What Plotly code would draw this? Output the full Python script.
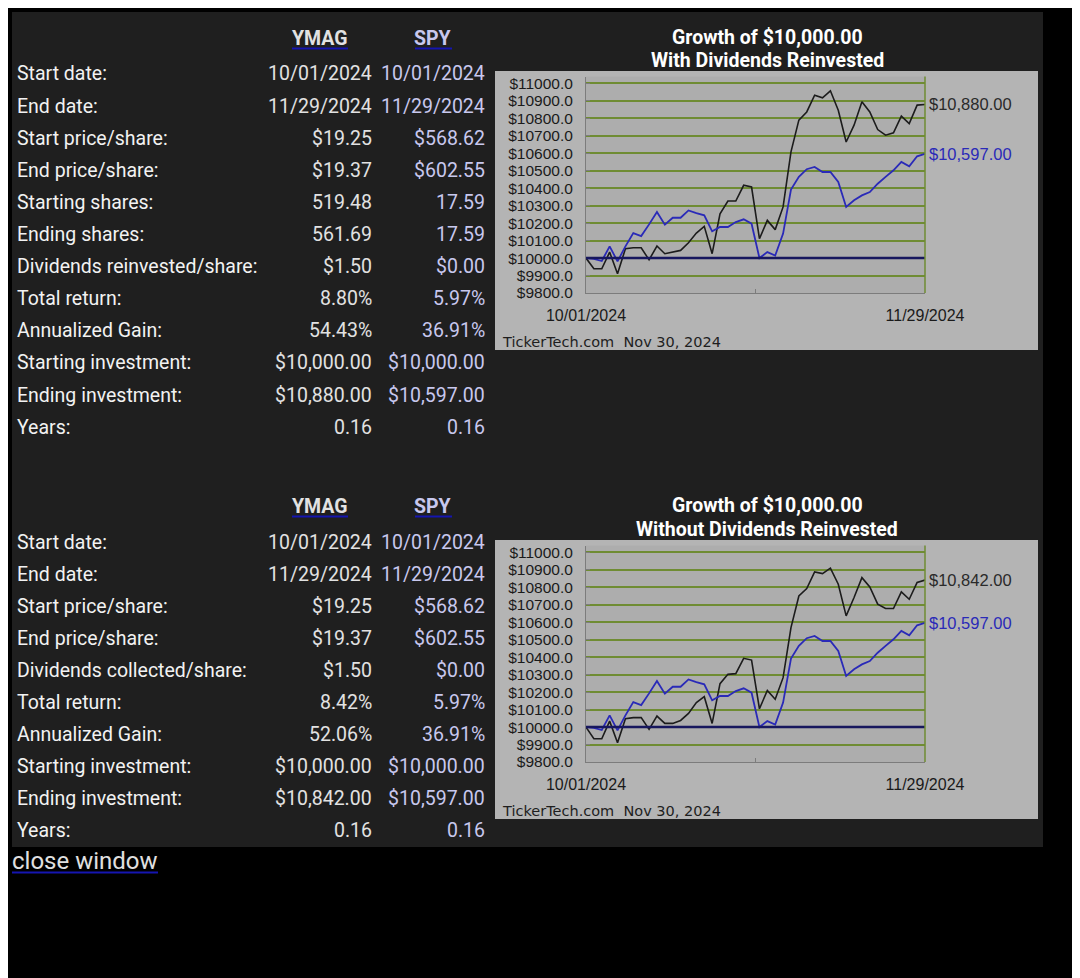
import plotly.graph_objects as go

# ---- table data ----
tickers = ["YMAG", "SPY"]

labels_reinvested = ["Start date:", "End date:", "Start price/share:", "End price/share:",
                     "Starting shares:", "Ending shares:", "Dividends reinvested/share:",
                     "Total return:", "Annualized Gain:", "Starting investment:",
                     "Ending investment:", "Years:"]
ymag_reinvested_rows = ["10/01/2024", "11/29/2024", "$19.25", "$19.37", "519.48", "561.69",
                        "$1.50", "8.80%", "54.43%", "$10,000.00", "$10,880.00", "0.16"]
spy_reinvested_rows = ["10/01/2024", "11/29/2024", "$568.62", "$602.55", "17.59", "17.59",
                       "$0.00", "5.97%", "36.91%", "$10,000.00", "$10,597.00", "0.16"]

labels_collected = ["Start date:", "End date:", "Start price/share:", "End price/share:",
                    "Dividends collected/share:", "Total return:", "Annualized Gain:",
                    "Starting investment:", "Ending investment:", "Years:"]
ymag_collected_rows = ["10/01/2024", "11/29/2024", "$19.25", "$19.37", "$1.50", "8.42%",
                       "52.06%", "$10,000.00", "$10,842.00", "0.16"]
spy_collected_rows = ["10/01/2024", "11/29/2024", "$568.62", "$602.55", "$0.00", "5.97%",
                      "36.91%", "$10,000.00", "$10,597.00", "0.16"]

# ---- chart data: growth of $10,000, one value per trading day ----
start_date = "10/01/2024"
end_date = "11/29/2024"
start_investment = 10000

ymag_growth_reinvested = [10000, 9939, 9939, 10034, 9910, 10054, 10059, 10059, 9990, 10069,
                          10025, 10034, 10044, 10088, 10143, 10182, 10025, 10254, 10327, 10327,
                          10417, 10407, 10111, 10216, 10163, 10293, 10608, 10790, 10837, 10933,
                          10918, 10958, 10847, 10665, 10761, 10895, 10837, 10736, 10704, 10717,
                          10813, 10770, 10876, 10880]
ymag_growth_collected = [10000, 9933, 9933, 10034, 9910, 10048, 10054, 10054, 9987, 10063,
                         10021, 10021, 10038, 10078, 10140, 10174, 10021, 10249, 10302, 10306,
                         10394, 10384, 10105, 10210, 10159, 10283, 10570, 10751, 10793, 10889,
                         10879, 10910, 10818, 10637, 10742, 10856, 10803, 10704, 10679, 10679,
                         10774, 10732, 10828, 10842]
spy_growth = [10000, 9996, 9983, 10067, 9981, 10067, 10143, 10126, 10193, 10264,
              10191, 10231, 10231, 10273, 10258, 10245, 10153, 10178, 10178, 10206,
              10222, 10197, 10000, 10034, 10015, 10140, 10392, 10465, 10509, 10522,
              10493, 10493, 10436, 10293, 10331, 10359, 10378, 10426, 10465, 10503,
              10551, 10526, 10583, 10597]

y_ticks = list(range(9800, 11001, 100))
y_tick_labels = [f"${v:.1f}" for v in y_ticks]

# the page body has an 8px margin, so the figure starts at (8, 8)
OFF = 8
W, H = 1080 - OFF, 978 - OFF


def px(x):
    return (x - OFF) / W


def py(y):
    return 1 - (y - OFF) / H


fig = go.Figure()
shapes = []
annotations = []


def text(x, y, s, size=19.5, color="#f2f2f2", anchor="left", family="Roboto", bold=False):
    annotations.append(dict(xref="paper", yref="paper", x=px(x), y=py(y),
                            text=f"<b>{s}</b>" if bold else s, showarrow=False,
                            xanchor=anchor, yanchor="middle",
                            font=dict(family=family, size=size, color=color)))


def rect(x0, y0, x1, y1, color):
    shapes.append(dict(type="rect", xref="paper", yref="paper", x0=px(x0), x1=px(x1),
                       y0=py(y1), y1=py(y0), fillcolor=color, line_width=0, layer="below"))


def hline(x0, x1, y, color, width=2):
    shapes.append(dict(type="line", xref="paper", yref="paper", x0=px(x0), x1=px(x1),
                       y0=py(y), y1=py(y), line=dict(color=color, width=width), layer="below"))


LINK = "#1515b0"
YMAG_TXT = "#e2e2e2"
SPY_TXT = "#c8c8ee"

# dark panel
rect(12, 12, 1043, 847, "#1f1f1f")


def table(top, labels, ymag, spy):
    text(320, top, tickers[0], bold=True, anchor="center", color=YMAG_TXT)
    hline(292, 348, top + 9.5, LINK)
    text(433, top, tickers[1], bold=True, anchor="center", color=SPY_TXT)
    hline(415, 452, top + 9.5, LINK)
    for i, (lab, a, b) in enumerate(zip(labels, ymag, spy)):
        y = top + 35 + i * 32.1
        text(15, y, lab)
        text(374, y, a, anchor="right", color=YMAG_TXT)
        text(487, y, b, anchor="right", color=SPY_TXT)


table(39, labels_reinvested, ymag_reinvested_rows, spy_reinvested_rows)
table(507, labels_collected, ymag_collected_rows, spy_collected_rows)

CHART_FONT = "Liberation Sans"
GRID = "#6f8c33"
AXIS = "#7c7c7c"


def chart(n, top, subtitle, ymag_values, spy_values):
    sfx = "" if n == 1 else str(n)
    xa, ya = "x" + sfx, "y" + sfx
    plot_t, plot_b = top + 5.5, top + 222
    rect(495, top, 1038, top + 279, "#b4b4b4")
    rect(586, plot_t, 925, plot_b, "#adadad")
    text(767, top - 34, "Growth of $10,000.00", size=19.5, color="#ffffff", anchor="center", bold=True)
    text(767, top - 11, subtitle, size=19.5, color="#ffffff", anchor="center", bold=True)
    text(500, top + 271, "TickerTech.com&nbsp;&nbsp;Nov 30, 2024", size=14.5, color="#1e1e1e",
         family="DejaVu Sans")

    xs = list(range(len(ymag_values)))
    fig.add_trace(go.Scatter(x=xs, y=ymag_values, mode="lines", xaxis=xa, yaxis=ya,
                             line=dict(color="#1c1c1c", width=1.6), showlegend=False,
                             name=tickers[0]))
    fig.add_trace(go.Scatter(x=xs, y=spy_values, mode="lines", xaxis=xa, yaxis=ya,
                             line=dict(color="#2a2ab8", width=1.8), showlegend=False,
                             name=tickers[1]))

    # baseline at the starting investment
    shapes.append(dict(type="line", xref=xa + " domain", yref=ya, x0=0, x1=1,
                       y0=start_investment, y1=start_investment,
                       line=dict(color="#17175e", width=2.5), layer="above"))
    # right axis line
    shapes.append(dict(type="line", xref=xa + " domain", yref=ya + " domain", x0=1, x1=1,
                       y0=0, y1=1, line=dict(color=GRID, width=1.5), layer="above"))

    for vals, col in ((ymag_values, "#2a2a2a"), (spy_values, "#2a2ab8")):
        annotations.append(dict(xref=xa, yref=ya, x=xs[-1], y=vals[-1],
                                text=f"${vals[-1]:,.2f}", showarrow=False, xanchor="left",
                                yanchor="middle", xshift=2,
                                font=dict(family=CHART_FONT, size=16.5, color=col)))

    axkey = "xaxis" + sfx
    aykey = "yaxis" + sfx
    fig.update_layout(**{
        axkey: dict(domain=[px(586), px(925)], range=[0, xs[-1]], anchor=ya, automargin=False,
                    tickvals=[0, xs[-1] / 2, xs[-1]], ticktext=[start_date, "", end_date],
                    showgrid=False, zeroline=False, showline=True, linecolor=AXIS, linewidth=1,
                    ticks="inside", ticklen=4, tickcolor=AXIS, ticklabelstandoff=8,
                    tickfont=dict(family=CHART_FONT, size=16, color="#1a1a1a"),
                    fixedrange=True),
        aykey: dict(domain=[py(plot_b), py(plot_t)], range=[9800, 11040], anchor=xa,
                    automargin=False, tickvals=y_ticks, ticktext=y_tick_labels,
                    showgrid=True, gridcolor=GRID, gridwidth=1.5, zeroline=False,
                    showline=True, linecolor=AXIS, linewidth=1,
                    ticks="inside", ticklen=4, tickcolor=AXIS, ticklabelstandoff=9,
                    tickfont=dict(family=CHART_FONT, size=15.5, color="#1a1a1a"),
                    fixedrange=True),
    })


chart(1, 71, "With Dividends Reinvested", ymag_growth_reinvested, spy_growth)
chart(2, 540, "Without Dividends Reinvested", ymag_growth_collected, spy_growth)

# close window link
text(10, 861, "close window", size=24, color="#e0e0e0")
hline(12, 158, 872.5, LINK)

fig.update_layout(width=W, height=H, autosize=False,
                  margin=dict(l=0, r=0, t=0, b=0, autoexpand=False),
                  paper_bgcolor="#000000", plot_bgcolor="rgba(0,0,0,0)",
                  shapes=shapes, annotations=annotations)

fig.write_html("out.html")
